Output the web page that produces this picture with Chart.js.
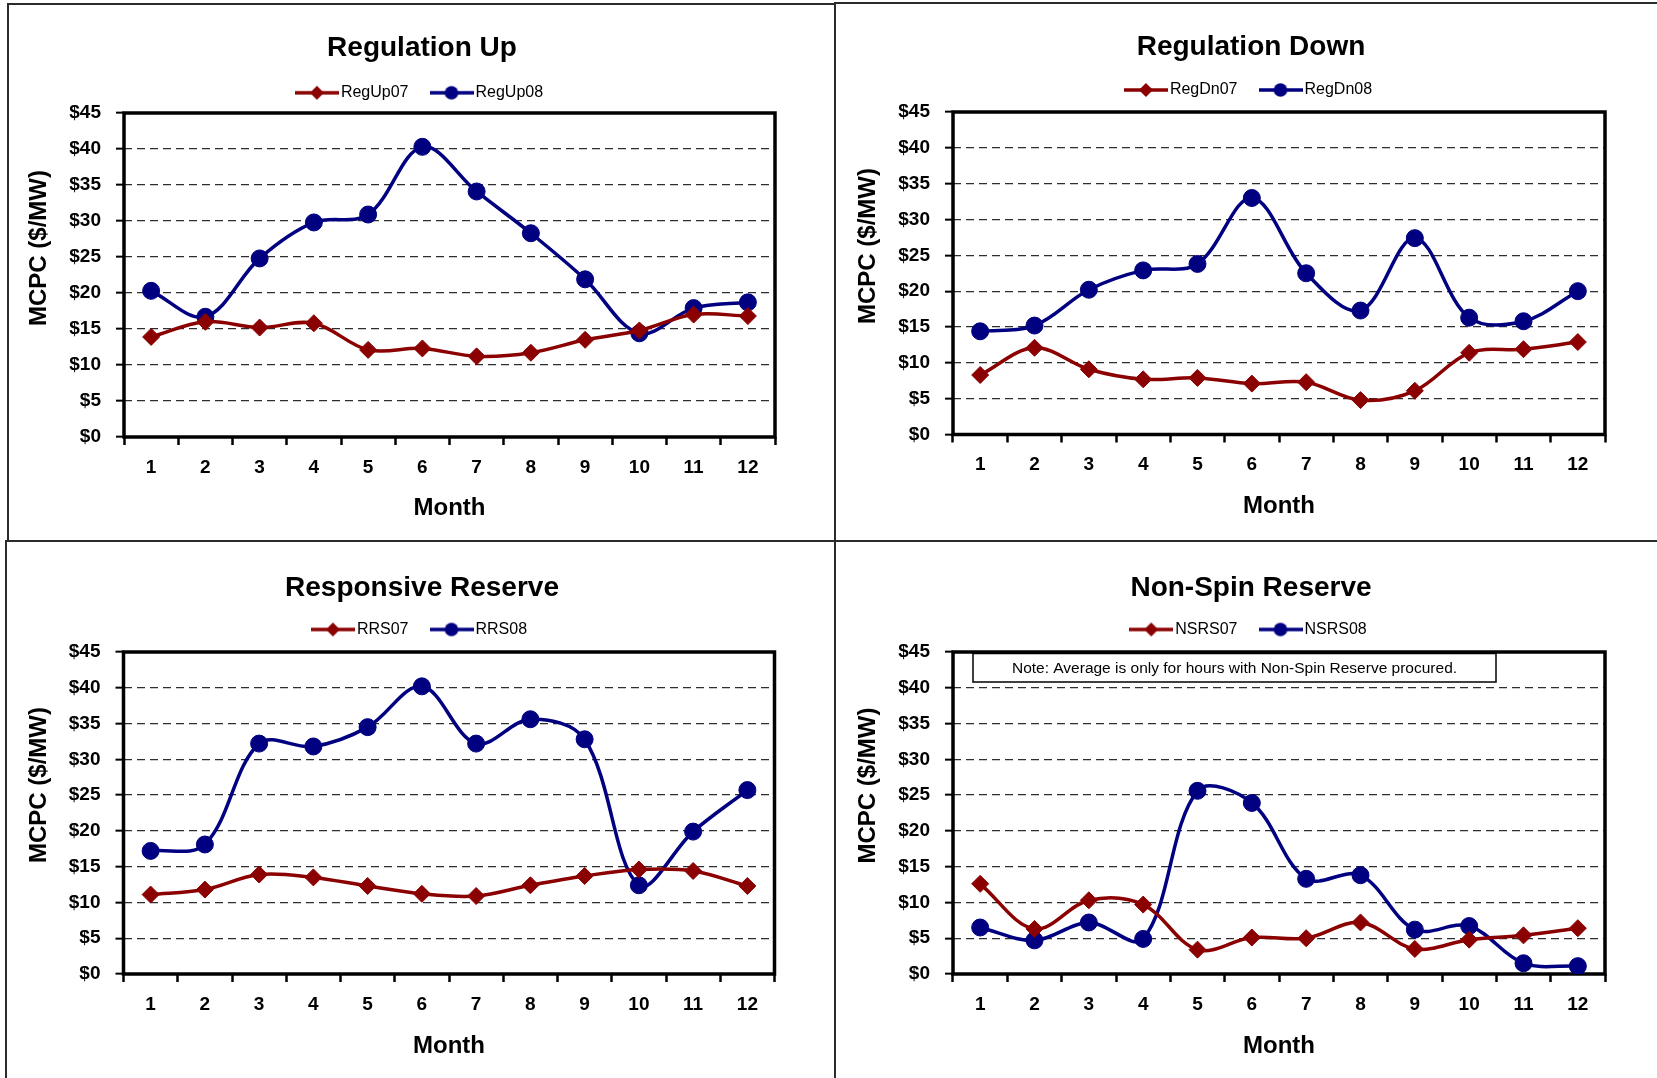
<!DOCTYPE html>
<html>
<head>
<meta charset="utf-8">
<script src="https://cdn.jsdelivr.net/npm/chart.js@4.4.1/dist/chart.umd.min.js"></script>
<style>
  html, body { margin: 0; padding: 0; background: #fff; width: 1657px; height: 1078px; overflow: hidden; }
  canvas { position: absolute; }
  .ln { position: absolute; background: #2b2b2b; }
</style>
</head>
<body>
<!-- panel frames -->
<div class="ln" style="left:7px;top:3px;width:828px;height:2px"></div>
<div class="ln" style="left:7px;top:3px;width:2px;height:538px"></div>
<div class="ln" style="left:835px;top:2px;width:822px;height:2px"></div>
<div class="ln" style="left:834px;top:2px;width:2px;height:1076px"></div>
<div class="ln" style="left:5px;top:540px;width:1652px;height:2px"></div>
<div class="ln" style="left:5px;top:540px;width:2px;height:538px"></div>

<canvas id="cUp"></canvas>
<canvas id="cDn"></canvas>
<canvas id="cRrs"></canvas>
<canvas id="cNsrs"></canvas>

<script>
const months = ['1', '2', '3', '4', '5', '6', '7', '8', '9', '10', '11', '12'];
const yTickValues = [0, 5, 10, 15, 20, 25, 30, 35, 40, 45];

const regUp07 = [13.9, 16.0, 15.2, 15.8, 12.1, 12.3, 11.2, 11.7, 13.5, 14.8, 17.0, 16.8];
const regUp08 = [20.3, 16.7, 24.8, 29.8, 30.9, 40.3, 34.1, 28.3, 21.9, 14.4, 17.9, 18.7];
const regDn07 = [8.3, 12.1, 9.1, 7.7, 7.9, 7.1, 7.3, 4.8, 6.1, 11.4, 11.9, 12.9];
const regDn08 = [14.4, 15.2, 20.2, 22.9, 23.8, 33.0, 22.5, 17.3, 27.4, 16.3, 15.8, 20.0];
const rrs07 = [11.1, 11.8, 13.9, 13.5, 12.3, 11.2, 10.9, 12.4, 13.7, 14.6, 14.4, 12.3];
const rrs08 = [17.2, 18.1, 32.2, 31.8, 34.5, 40.2, 32.2, 35.6, 32.8, 12.4, 19.9, 25.7];
const nsrs07 = [12.6, 6.3, 10.3, 9.7, 3.4, 5.1, 5.0, 7.2, 3.5, 4.8, 5.4, 6.4];
const nsrs08 = [6.5, 4.7, 7.2, 4.9, 25.6, 23.9, 13.3, 13.8, 6.2, 6.7, 1.5, 1.1];

const RED = '#8b0000';
const BLUE = '#000080';
const FONT = '"Liberation Sans", Arial, Helvetica, sans-serif';

Chart.defaults.font.family = FONT;
Chart.defaults.color = '#000';

// page positions of each panel (plot box, title, legend, side titles)
const layouts = [
  { id: 'cUp', left: 12, top: 5, h: 535, plot: { l: 124, r: 775, t: 113, b: 437 }, titleY: 48.5, legendY: 92.8, yTitle: { x: 39.7, y: 248 }, monthY: 508 },
  { id: 'cDn', left: 841, top: 4, h: 536, plot: { l: 953, r: 1605, t: 112, b: 434.5 }, titleY: 46.8, legendY: 90, yTitle: { x: 868, y: 246 }, monthY: 506.5 },
  { id: 'cRrs', left: 12, top: 543, h: 535, plot: { l: 123.5, r: 774.5, t: 652, b: 974 }, titleY: 588, legendY: 629.5, yTitle: { x: 39.5, y: 785 }, monthY: 1046 },
  { id: 'cNsrs', left: 841, top: 543, h: 535, plot: { l: 953, r: 1605, t: 652, b: 974 }, titleY: 588, legendY: 629.5, yTitle: { x: 868, y: 785.5 }, monthY: 1046 }
];
const CW = 820;
const TITLE_SIZE = 28;
const MONTH_SIZE = 24;
const LEG_PAD = 27;

function legendIcon(color, shape) {
  const cv = document.createElement('canvas');
  cv.width = 44; cv.height = 16;
  const g = cv.getContext('2d');
  g.strokeStyle = color; g.lineWidth = 3.5;
  g.beginPath(); g.moveTo(0, 8); g.lineTo(44, 8); g.stroke();
  g.fillStyle = color;
  g.beginPath();
  if (shape === 'diamond') { g.moveTo(22, 1); g.lineTo(29, 8); g.lineTo(22, 15); g.lineTo(15, 8); g.closePath(); }
  else g.arc(22, 8, 6.8, 0, Math.PI * 2);
  g.fill();
  return cv;
}

// thick black box round the plot area
const plotFrame = {
  id: 'plotFrame',
  beforeDatasetsDraw(chart) {
    const a = chart.chartArea, c = chart.ctx;
    c.save();
    c.lineWidth = 3.5; c.strokeStyle = '#000';
    c.strokeRect(a.left, a.top, a.right - a.left, a.bottom - a.top);
    c.restore();
  }
};

// vertical axis title sits a bit above the plot centre in the original, so drawn here
const sideTitle = {
  id: 'sideTitle',
  afterDraw(chart, args, opts) {
    const c = chart.ctx;
    c.save();
    c.translate(opts.x, opts.y);
    c.rotate(-Math.PI / 2);
    c.font = 'bold 24px ' + FONT;
    c.fillStyle = '#000'; c.textAlign = 'center'; c.textBaseline = 'middle';
    c.fillText(opts.text, 0, 0);
    c.restore();
  }
};

const noteBox = {
  id: 'noteBox',
  afterDatasetsDraw(chart, args, opts) {
    if (!opts.text) return;
    const a = chart.chartArea, c = chart.ctx;
    const x = a.left + 20, y = a.top + 1.5, w = 523, h = 28.5;
    c.save();
    c.fillStyle = '#fff'; c.fillRect(x, y, w, h);
    c.lineWidth = 1.5; c.strokeStyle = '#000'; c.strokeRect(x, y, w, h);
    c.font = '15.5px ' + FONT; c.fillStyle = '#000';
    c.textAlign = 'center'; c.textBaseline = 'middle';
    c.fillText(opts.text, x + w / 2, y + h / 2 + 1);
    c.restore();
  }
};

function makeChart(L, title, names, s07, s08, note) {
  const cv = document.getElementById(L.id);
  cv.width = CW; cv.height = L.h;
  cv.style.left = L.left + 'px'; cv.style.top = L.top + 'px';

  const yw = L.plot.l - L.left;
  const rw = L.left + CW - L.plot.r;
  const xh = L.top + L.h - L.plot.b;
  const tpt = L.titleY - L.top - TITLE_SIZE / 2;
  // may go below zero: title and legend boxes overlap a little here
  const tpb = (L.legendY - LEG_PAD - 8) - (L.top + tpt + TITLE_SIZE);
  const th = Math.max(0, L.plot.t - (L.legendY + 18));
  const mpb = L.top + L.h - L.monthY - MONTH_SIZE / 2;
  const icons = [legendIcon(RED, 'diamond'), legendIcon(BLUE, 'circle')];

  return new Chart(cv, {
    type: 'line',
    data: {
      labels: months,
      datasets: [
        { label: names[0], data: s07, borderColor: RED, backgroundColor: RED, borderWidth: 3.5,
          pointStyle: 'rectRot', pointRadius: 8.5, pointBorderWidth: 1, tension: 0.35, fill: false },
        { label: names[1], data: s08, borderColor: BLUE, backgroundColor: BLUE, borderWidth: 3.5,
          pointStyle: 'circle', pointRadius: 8.5, pointBorderWidth: 1, tension: 0.35, fill: false }
      ]
    },
    options: {
      responsive: false,
      animation: false,
      layout: { padding: 0 },
      scales: {
        x: {
          type: 'category', offset: true,
          grid: { offset: true, drawOnChartArea: false, tickLength: 8, tickWidth: 2.5, tickColor: '#000' },
          border: { display: false },
          ticks: { color: '#000', font: { size: 19, weight: 'bold' }, padding: 11, maxRotation: 0, autoSkip: false },
          title: { display: true, text: 'Month', color: '#000', font: { size: MONTH_SIZE, weight: 'bold', lineHeight: 1 }, padding: { top: 0, bottom: mpb } },
          afterFit: s => { s.height = xh; }
        },
        y: {
          type: 'linear', min: 0, max: 45,
          afterBuildTicks: s => { s.ticks = yTickValues.map(v => ({ value: v })); },
          grid: {
            color: ctx => (ctx.tick && (ctx.tick.value === 0 || ctx.tick.value === 45)) ? 'rgba(0,0,0,0)' : '#2e2e2e',
            lineWidth: 1.3, tickLength: 8, tickWidth: 2, tickColor: '#000', tickBorderDash: []
          },
          border: { display: false, dash: [8, 5] },
          ticks: { color: '#000', font: { size: 19, weight: 'bold' }, padding: 15, callback: v => '$' + v },
          afterFit: s => { s.width = yw; }
        },
        yRight: {
          type: 'linear', position: 'right', display: true,
          grid: { display: false }, border: { display: false }, ticks: { display: false },
          afterFit: s => { s.width = rw; }
        },
        xTop: {
          type: 'linear', position: 'top', display: true,
          grid: { display: false }, border: { display: false }, ticks: { display: false },
          afterFit: s => { s.height = th; }
        }
      },
      plugins: {
        title: { display: true, text: title, color: '#000', font: { size: TITLE_SIZE, weight: 'bold', lineHeight: 1 }, padding: { top: tpt, bottom: tpb } },
        legend: {
          display: true, position: 'top',
          labels: {
            usePointStyle: true, pointStyleWidth: 32, padding: LEG_PAD, color: '#000', font: { size: 16 },
            generateLabels: chart => Chart.defaults.plugins.legend.labels.generateLabels(chart)
              .map((it, i) => Object.assign(it, { pointStyle: icons[i] }))
          }
        },
        tooltip: { enabled: false },
        sideTitle: { text: 'MCPC ($/MW)', x: L.yTitle.x - L.left, y: L.yTitle.y - L.top },
        noteBox: { text: note || '' }
      }
    },
    plugins: [plotFrame, sideTitle, noteBox]
  });
}

makeChart(layouts[0], 'Regulation Up', ['RegUp07', 'RegUp08'], regUp07, regUp08);
makeChart(layouts[1], 'Regulation Down', ['RegDn07', 'RegDn08'], regDn07, regDn08);
makeChart(layouts[2], 'Responsive Reserve', ['RRS07', 'RRS08'], rrs07, rrs08);
makeChart(layouts[3], 'Non-Spin Reserve', ['NSRS07', 'NSRS08'], nsrs07, nsrs08,
  'Note: Average is only for hours with Non-Spin Reserve procured.');
</script>
</body>
</html>
